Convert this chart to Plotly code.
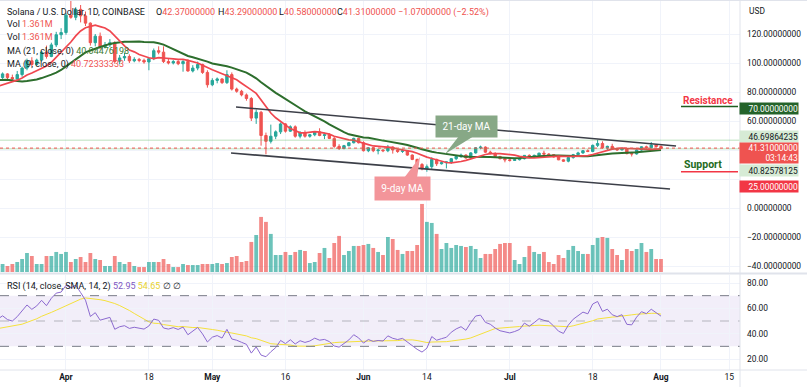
import numpy as np
import pandas as pd
import plotly.graph_objects as go

# ---------------- data ----------------
dates = pd.date_range("2022-03-18", "2022-08-01", freq="D")

# closes before the visible window (used only for the moving averages / RSI warm-up)
history_close = [102.5, 97.3, 98.6, 113.5, 113.3, 116.5, 119.5, 114.8, 120.3, 112.6,
                 101.5, 100.2, 98.8, 96.5, 105.0, 101.5, 91.4, 88.7, 90.6, 86.0,
                 83.6, 88.6, 86.0, 89.6, 93.8, 90.2, 88.8, 98.6, 104.3, 100.5,
                 94.8, 88.3, 90.0, 86.3, 83.2, 84.3, 89.0, 84.0, 81.3, 81.0,
                 78.9, 83.1, 82.3, 87.0, 87.5]

open_ = [
    # Mar 18-31
    87.5, 90.0, 92.5, 90.0, 89.0, 92.0, 96.5, 101.5, 99.0, 102.0, 107.5, 104.5, 112.5, 119.5,
    # Apr
    121.0, 133.0, 131.5, 137.0, 132.5, 127.5, 114.0, 118.5, 111.0, 112.5,
    114.0, 101.0, 103.5, 104.5, 101.5, 102.5, 101.8, 100.7, 103.0, 108.5,
    107.5, 101.0, 100.0, 101.0, 99.5, 101.0, 94.5, 96.5, 99.0, 93.5,
    # May
    85.0, 88.0, 89.0, 86.5, 92.0, 82.0, 80.5, 78.0, 75.5, 62.0,
    66.0, 50.0, 46.0, 49.5, 52.5, 58.0, 53.0, 56.0, 49.5, 52.0,
    49.5, 50.5, 52.5, 50.0, 50.5, 48.0, 42.5, 41.0, 43.0, 45.0, 48.0,
    # Jun
    45.0, 39.5, 41.5, 39.5, 40.0, 39.5, 42.0, 40.0, 39.0, 39.5,
    36.5, 33.5, 30.0, 27.0, 28.5, 33.5, 30.5, 31.2, 31.8, 34.0,
    35.5, 36.5, 34.5, 38.0, 41.5, 42.0, 38.5, 37.5, 35.5, 34.0,
    # Jul
    33.2, 32.8, 33.3, 34.0, 36.3, 35.0, 36.3, 37.8, 37.2, 36.8,
    35.2, 33.2, 32.3, 34.8, 36.8, 38.0, 39.5, 39.0, 43.2, 44.5,
    41.5, 42.5, 40.7, 40.1, 40.8, 37.5, 37.3, 40.0, 42.2, 41.6, 43.4,
    # Aug 1
    42.37]
high = [
    91.0, 93.5, 93.0, 92.0, 94.5, 97.5, 103.0, 104.0, 103.0, 108.5, 112.0, 114.0, 121.5, 124.0,
    134.5, 143.0, 138.5, 140.0, 135.5, 128.0, 120.0, 121.0, 114.5, 116.5,
    115.0, 105.5, 107.0, 106.0, 104.0, 103.5, 103.0, 104.0, 110.0, 111.5,
    111.5, 103.0, 102.0, 102.0, 102.0, 102.5, 98.5, 101.0, 99.5, 95.0,
    89.5, 90.0, 89.5, 95.0, 93.5, 83.0, 81.5, 79.0, 76.5, 68.0,
    67.0, 52.0, 57.5, 53.5, 59.0, 58.5, 57.0, 57.0, 53.0, 53.5,
    51.0, 53.0, 55.0, 52.0, 51.5, 49.0, 44.0, 43.5, 45.5, 48.5, 48.5,
    46.0, 42.0, 42.0, 40.5, 40.5, 43.5, 42.5, 40.5, 40.5, 40.0,
    37.0, 34.0, 31.0, 30.0, 35.0, 34.0, 32.0, 32.0, 34.5, 36.0,
    37.5, 37.0, 38.5, 42.0, 43.0, 42.5, 39.5, 38.5, 36.0, 34.5,
    35.0, 34.0, 34.5, 36.5, 37.0, 36.8, 38.2, 39.5, 37.8, 37.0,
    35.5, 33.6, 35.2, 37.3, 38.8, 40.0, 40.5, 43.8, 47.0, 46.0,
    43.0, 44.3, 41.8, 41.8, 41.0, 38.0, 40.5, 42.5, 43.0, 45.5, 44.0,
    43.29]
low = [
    85.5, 89.0, 88.5, 87.5, 88.5, 90.5, 95.0, 97.5, 98.0, 101.0, 103.0, 104.0, 111.0, 116.5,
    119.5, 130.5, 129.5, 128.0, 125.5, 112.0, 111.5, 109.5, 110.0, 111.0,
    99.5, 99.0, 101.5, 100.0, 100.5, 100.5, 99.5, 95.0, 102.0, 106.0,
    100.0, 99.0, 99.0, 98.5, 94.0, 94.0, 93.5, 95.0, 92.5, 83.0,
    84.0, 86.0, 85.5, 85.5, 81.0, 79.5, 77.0, 74.0, 60.0, 58.0,
    43.0, 37.0, 44.5, 47.5, 51.0, 52.0, 52.5, 48.5, 48.0, 48.5,
    48.5, 49.5, 49.5, 47.5, 47.5, 41.5, 40.0, 40.5, 42.5, 44.5, 44.5,
    39.0, 38.5, 38.5, 37.0, 38.5, 38.5, 37.5, 38.0, 38.0, 36.0,
    33.0, 29.5, 26.0, 25.0, 27.0, 29.0, 30.0, 27.3, 30.5, 33.0,
    34.5, 34.0, 34.0, 37.5, 40.5, 38.0, 37.0, 35.0, 33.5, 31.5,
    32.0, 32.5, 32.8, 33.5, 34.5, 34.5, 36.0, 36.5, 36.3, 34.8,
    33.0, 31.8, 31.5, 34.0, 36.3, 37.3, 38.5, 38.5, 42.0, 41.0,
    40.0, 40.3, 39.5, 39.6, 37.0, 35.5, 36.8, 39.5, 41.0, 41.0, 41.8,
    40.58]
close = [
    90.0, 92.5, 90.0, 89.0, 92.0, 96.5, 101.5, 99.0, 102.0, 107.5, 104.5, 112.5, 119.5, 121.0,
    133.0, 131.5, 137.0, 132.5, 127.5, 114.0, 118.5, 111.0, 112.5, 114.0,
    101.0, 103.5, 104.5, 101.5, 102.5, 101.8, 100.7, 103.0, 108.5, 107.5,
    101.0, 100.0, 101.0, 99.5, 101.0, 94.5, 96.5, 99.0, 93.5, 85.0,
    88.0, 89.0, 86.5, 92.0, 82.0, 80.5, 78.0, 75.5, 62.0, 66.0,
    50.0, 46.0, 49.5, 52.5, 58.0, 53.0, 56.0, 49.5, 52.0, 49.5,
    50.5, 52.5, 50.0, 50.5, 48.0, 42.5, 41.0, 43.0, 45.0, 48.0, 45.0,
    39.5, 41.5, 39.5, 40.0, 39.5, 42.0, 40.0, 39.0, 39.5, 36.5,
    33.5, 30.0, 27.0, 28.5, 33.5, 30.5, 31.2, 31.8, 34.0, 35.5,
    36.5, 34.5, 38.0, 41.5, 42.0, 38.5, 37.5, 35.5, 34.0, 33.2,
    32.8, 33.3, 34.0, 36.3, 35.0, 36.3, 37.8, 37.2, 36.8, 35.2,
    33.2, 32.3, 34.8, 36.8, 38.0, 39.5, 39.0, 43.2, 44.5, 41.5,
    42.5, 40.7, 40.1, 40.8, 37.5, 37.3, 40.0, 42.2, 41.6, 43.4, 42.37,
    41.31]
volume_m = [
    0.84, 0.84, 0.63, 0.84, 1.05, 1.36, 1.99, 1.68, 0.84, 0.84, 1.68, 1.68, 2.10, 1.89,
    2.10, 1.05, 1.36, 1.57, 1.05, 1.99, 1.36, 1.26, 0.63, 0.63,
    1.68, 1.05, 0.84, 1.05, 0.63, 0.52, 0.52, 1.05, 1.05, 1.05,
    1.36, 0.84, 0.52, 0.52, 0.84, 0.73, 0.73, 0.73, 0.84, 0.84,
    0.84, 0.94, 0.84, 0.94, 1.57, 1.68, 1.05, 1.15, 3.15, 3.88,
    5.77, 5.25, 3.99, 1.78, 1.78, 2.10, 1.78, 2.10, 2.31, 2.20,
    0.94, 1.05, 1.99, 2.52, 1.47, 3.04, 3.78, 1.78, 2.20, 2.73, 2.73,
    2.83, 2.94, 2.52, 2.10, 1.78, 3.67, 3.46, 2.31, 1.89, 2.20,
    2.20, 2.83, 7.13, 5.25, 5.14, 3.99, 2.41, 3.04, 2.52, 2.83,
    2.73, 2.62, 2.73, 2.41, 1.47, 1.89, 1.89, 2.41, 2.94, 3.04,
    3.04, 1.26, 0.84, 1.57, 2.73, 2.10, 1.89, 2.10, 1.05, 0.84,
    1.78, 1.47, 2.31, 2.73, 2.20, 1.89, 1.89, 2.83, 3.57, 3.67,
    3.57, 2.41, 1.78, 1.26, 2.41, 2.20, 2.41, 3.04, 2.10, 2.41, 1.36,
    1.361]

x_tick_dates = ["2022-04-01", "2022-04-18", "2022-05-01", "2022-05-16", "2022-06-01",
                "2022-06-14", "2022-07-01", "2022-07-18", "2022-08-01", "2022-08-15"]
x_tick_text = ["<b>Apr</b>", "18", "<b>May</b>", "16", "<b>Jun</b>", "14",
               "<b>Jul</b>", "18", "<b>Aug</b>", "15"]
price_ticks = [120, 100, 80, 60, 40, 20, 0, -20, -40]
price_tick_text = ["120.00000000", "100.00000000", "80.00000000", "60.00000000", "", "",
                   "0.00000000", "\u221220.00000000", "\u221240.00000000"]
rsi_ticks = [20, 40, 60, 80]
rsi_tick_text = ["20.00", "40.00", "60.00", "80.00"]

resistance = 70.0
support = 25.0
level_hi = 46.69864235
level_lo = 40.82578125
last_price = 41.31
channel_upper = [("2022-05-05 20:40", 69.7), ("2022-08-04 02:00", 42.8)]
channel_lower = [("2022-05-04 20:00", 37.9), ("2022-08-02 20:30", 13.1)]

# ---------------- indicators ----------------
all_close = np.array(history_close + close, dtype=float)
n_hist = len(history_close)
s_all = pd.Series(all_close)
ma9 = s_all.rolling(9).mean().values[n_hist:]
ma21 = s_all.rolling(21).mean().values[n_hist:]

delta = np.diff(all_close, prepend=np.nan)
gain = np.where(delta > 0, delta, 0.0)
loss = np.where(delta < 0, -delta, 0.0)


def rma(v, n):
    out = np.full(len(v), np.nan)
    out[n] = np.mean(v[1:n + 1])
    for i in range(n + 1, len(v)):
        out[i] = (out[i - 1] * (n - 1) + v[i]) / n
    return out


ag = rma(gain, 14)
al = rma(loss, 14)
rsi_all = 100 - 100 / (1 + ag / al)
rsi_sma_all = pd.Series(rsi_all).rolling(14).mean().values
rsi = rsi_all[n_hist:]
rsi_sma = rsi_sma_all[n_hist:]

# ---------------- figure ----------------
GREEN = "#26a69a"
RED = "#ef5350"
TXT = "#131722"
GRID = "#f0f3fa"
FONT = "Roboto, Open Sans, sans-serif"

W_PLOT, H_PLOT = 740.0, 370.0


def px(x):
    return x / W_PLOT


def py(y):
    return 1 - y / H_PLOT


up = [c >= o for o, c in zip(open_, close)]
vol_colors = ["rgba(38,166,154,0.68)" if u else "rgba(239,83,80,0.68)" for u in up]

fig = go.Figure()
fig.add_trace(go.Bar(x=dates, y=volume_m, marker=dict(color=vol_colors, line=dict(width=0)),
                     width=0.78 * 86400000, yaxis="y3", hoverinfo="skip"))
fig.add_trace(go.Candlestick(
    x=dates, open=open_, high=high, low=low, close=close,
    increasing=dict(line=dict(color=GREEN, width=1), fillcolor=GREEN),
    decreasing=dict(line=dict(color=RED, width=1), fillcolor=RED),
    whiskerwidth=0, yaxis="y"))
fig.add_trace(go.Scatter(x=dates, y=ma21, mode="lines",
                         line=dict(color="#2d6e2d", width=2), yaxis="y"))
fig.add_trace(go.Scatter(x=dates, y=ma9, mode="lines",
                         line=dict(color="#f0474f", width=1.7), yaxis="y"))
fig.add_trace(go.Scatter(x=dates, y=rsi_sma, mode="lines",
                         line=dict(color="#f5e13c", width=1), yaxis="y2"))
fig.add_trace(go.Scatter(x=dates, y=rsi, mode="lines",
                         line=dict(color="#8c6ad0", width=1), yaxis="y2"))

shapes = []
# RSI band and levels
shapes.append(dict(type="rect", xref="paper", yref="y2", x0=0, x1=1, y0=30, y1=70,
                   fillcolor="rgba(126,87,194,0.10)", line=dict(width=0), layer="below"))
for lvl, col in [(70, "#787b86"), (30, "#787b86"), (50, "rgba(120,123,134,0.5)")]:
    shapes.append(dict(type="line", xref="paper", yref="y2", x0=0, x1=1, y0=lvl, y1=lvl,
                       line=dict(color=col, width=1, dash="dash")))
# horizontal price lines
shapes.append(dict(type="line", xref="paper", yref="y", x0=0, x1=1, y0=level_hi, y1=level_hi,
                   line=dict(color="rgba(76,175,80,0.25)", width=1.5)))
shapes.append(dict(type="line", xref="paper", yref="y", x0=0, x1=1, y0=level_lo, y1=level_lo,
                   line=dict(color="rgba(76,175,80,0.25)", width=1.5)))
shapes.append(dict(type="line", xref="paper", yref="y", x0=0, x1=1, y0=last_price, y1=last_price,
                   line=dict(color=RED, width=1, dash="dot")))
# channel
for (a, b) in [channel_upper, channel_lower]:
    shapes.append(dict(type="line", xref="x", yref="y", x0=a[0], y0=a[1], x1=b[0], y1=b[1],
                       line=dict(color="#3c3f48", width=1.6)))
# resistance / support marks
shapes.append(dict(type="line", xref="paper", yref="y", x0=px(681), x1=px(738),
                   y0=resistance, y1=resistance, line=dict(color="#1e5e20", width=1.5)))
shapes.append(dict(type="line", xref="paper", yref="y", x0=px(681), x1=px(738),
                   y0=support, y1=support, line=dict(color="#f23645", width=1.5)))
# callout tails
shapes.append(dict(type="path", xref="paper", yref="paper",
                   path=f"M {px(459)},{py(136)} L {px(474)},{py(136)} L {px(445)},{py(154)} Z",
                   fillcolor="#87a886", line=dict(width=0)))
shapes.append(dict(type="path", xref="paper", yref="paper",
                   path=f"M {px(404)},{py(178)} L {px(417)},{py(178)} L {px(420)},{py(157)} Z",
                   fillcolor="#f3959a", line=dict(width=0)))
# pane separators
SEP = "#e0e3eb"
shapes.append(dict(type="line", xref="paper", yref="paper", x0=0, x1=807 / W_PLOT,
                   y0=py(273.5), y1=py(273.5), line=dict(color=SEP, width=2)))
shapes.append(dict(type="line", xref="paper", yref="paper", x0=0, x1=807 / W_PLOT,
                   y0=py(370), y1=py(370), line=dict(color=SEP, width=1)))
shapes.append(dict(type="line", xref="paper", yref="paper", x0=1, x1=1,
                   y0=py(387), y1=py(0), line=dict(color=SEP, width=1)))
shapes.append(dict(type="line", xref="paper", yref="paper", x0=0, x1=807 / W_PLOT,
                   y0=py(0.5), y1=py(0.5), line=dict(color=SEP, width=1)))

ann = []


def text(x, y, t, size=9, color=TXT, **kw):
    d = dict(x=px(x), y=py(y), xref="paper", yref="paper", text=t, showarrow=False,
             xanchor="left", yanchor="middle", font=dict(family=FONT, size=size, color=color))
    d.update(kw)
    ann.append(d)


def red(t):
    return f"<span style='color:{RED}'>{t}</span>"


# header
text(5, 12, "Solana / U.S. Dollar, 1D, COINBASE")
text(154, 12, "O" + red("42.37000000"))
text(216, 12, "H" + red("43.29000000"))
text(277, 12, "L" + red("40.58000000"))
text(335, 12, "C" + red("41.31000000"))
text(396, 12, red("\u22121.07000000 (\u22122.52%)"))
text(5, 24.5, "Vol " + red("1.361M"))
text(5, 37, "Vol " + red("1.361M"))
text(5, 51, "MA (21, close, 0) <span style='color:#3a7a30'>40.04476198</span>")
text(5, 64, "MA (9, close, 0) " + red("40.72333333"))
text(5, 286, "RSI (14, close, SMA, 14, 2) <span style='color:#7e57c2'>52.95</span> "
     "<span style='color:#e8d22c'>54.65</span> \u2205 \u2205")
text(747, 11, "USD", size=8.4)
# resistance / support labels
text(708, 100.5, "<b>Resistance</b>", size=10, color="#f23645", xanchor="center")
text(682, 164.5, "<b>Support</b>", size=10.5, color="#1e6b22")
# callouts
text(466.5, 126.5, "21-day MA", size=10, color="white", xanchor="center",
     bgcolor="#87a886", width=61, height=21, borderpad=0)
text(402.5, 188.5, "9-day MA", size=10, color="white", xanchor="center",
     bgcolor="#f3959a", width=55, height=23, borderpad=0)
# price scale labels
boxes = [
    (108, "70.00000000", "#24632a", "white", 11),
    (136, "46.69864235", "#d6ebd5", TXT, 11),
    (153, "41.31000000<br>03:14:43", "#ef5350", "white", 20),
    (171, "40.82578125", "#d6ebd5", TXT, 11),
    (186.5, "25.00000000", "#f23645", "white", 11),
]
for yc, t, bg, fc, h in boxes:
    text(739, yc, t, size=8.4, color=fc, bgcolor=bg, width=58, height=h,
         borderpad=0, align="right")

fig.update_layout(
    width=807, height=387,
    margin=dict(l=0, r=67, t=0, b=17),
    paper_bgcolor="white", plot_bgcolor="white",
    showlegend=False,
    font=dict(family=FONT, size=8.4, color=TXT),
    shapes=shapes, annotations=ann,
    xaxis=dict(type="date", domain=[0, 1], anchor="y2",
               range=["2022-03-18 11:17", "2022-08-17 04:48"],
               tickvals=x_tick_dates, ticktext=x_tick_text,
               tickfont=dict(size=8.5, color=TXT),
               showgrid=True, gridcolor=GRID, gridwidth=1,
               zeroline=False, showline=False, ticks="",
               rangeslider=dict(visible=False), fixedrange=True),
    yaxis=dict(domain=[1 - 272 / H_PLOT, 1], anchor="x", side="right",
               range=[-44.14, 143.45], tickvals=price_ticks, ticktext=price_tick_text,
               showgrid=True, gridcolor=GRID, zeroline=False, ticks="",
               ticklabelstandoff=6, tickfont=dict(size=8.4, color=TXT)),
    yaxis2=dict(domain=[0, 1 - 275 / H_PLOT], anchor="x", side="right",
                range=[11.32, 86.32], tickvals=rsi_ticks, ticktext=rsi_tick_text,
                showgrid=True, gridcolor=GRID, zeroline=False, ticks="",
                ticklabelstandoff=6, tickfont=dict(size=8.4, color=TXT)),
    yaxis3=dict(overlaying="y", range=[0, 28.5], visible=False),
)

fig.write_html("out.html", config={"displayModeBar": False},
               post_script="document.body.style.margin='0';document.body.style.overflow='hidden';")
